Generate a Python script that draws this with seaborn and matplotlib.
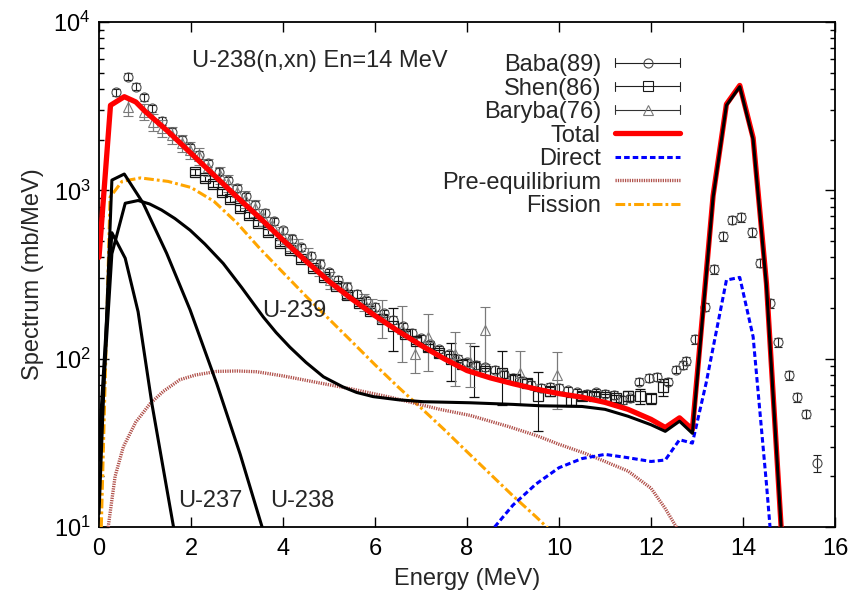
import numpy as np
import pandas as pd
import seaborn as sns
import matplotlib
matplotlib.use("Agg")
import matplotlib.pyplot as plt
from matplotlib.lines import Line2D
from matplotlib.legend_handler import HandlerBase
from matplotlib.ticker import FuncFormatter, NullLocator, LogLocator

# ---------------- data ----------------
baba_x = [0.38, 0.62, 0.80, 0.98, 1.16, 1.36, 1.58, 1.80, 1.98, 2.17, 2.38, 2.60, 2.80, 3.00,
          3.20, 3.40, 3.60, 3.80, 4.00, 4.20, 4.40, 4.60, 4.80, 5.00, 5.20, 5.40, 5.60, 5.80,
          6.00, 6.20, 6.40, 6.60, 6.80, 7.00, 7.20, 7.40, 7.60, 7.80, 8.00, 8.20, 8.40, 8.60,
          8.80, 9.00, 9.20, 9.40, 9.60, 9.80, 10.00, 10.20, 10.40, 10.60, 10.80, 11.00, 11.20,
          11.40, 11.55, 11.73, 11.95, 12.14, 12.36, 12.54, 12.69, 12.76, 12.96, 13.17, 13.37,
          13.57, 13.77, 13.96, 14.19, 14.38, 14.58, 14.77, 14.99, 15.18, 15.38, 15.60]
baba_y = [3820, 4730, 4130, 3570, 3070, 2590, 2230, 1990, 1800, 1620, 1450, 1290, 1150, 1030,
          920, 820, 735, 655, 580, 515, 460, 410, 365, 325, 295, 268, 243, 222,
          203, 186, 170, 156, 143, 132, 122, 114, 106, 100, 95, 92, 89, 86,
          81, 77, 74, 70, 67, 68, 67, 65, 63, 62, 63, 62, 61,
          57, 58, 73, 77, 78, 73, 86, 92, 97, 130, 203, 340,
          532, 668, 693, 562, 371, 214, 125, 80, 59, 47, 24]
baba_rel = [0.05] * 64 + [0.06] * 13 + [0.12]

shen_x = [2.09, 2.30, 2.47, 2.67, 2.85, 3.07, 3.25, 3.46, 3.68, 3.93, 4.15, 4.40, 4.65, 4.90,
          5.15, 5.40, 5.65, 5.90, 6.15, 6.40, 6.65, 6.90, 7.15, 7.40, 7.65, 7.90, 8.15, 8.40,
          8.75, 9.05, 9.30, 9.55, 9.80, 10.25, 10.50, 10.76, 11.00, 11.24, 11.50, 11.76, 12.00, 12.27]
shen_y = [1290, 1180, 1090, 980, 885, 790, 710, 640, 567, 484, 440, 390, 345, 305,
          270, 240, 215, 193, 173, 156, 141, 128, 117, 108, 99, 93, 89, 84,
          82, 76, 72, 60, 64, 56, 60, 60, 59, 58, 60, 60, 58, 68]
shen_err = [55, 50, 45, 40, 36, 32, 29, 26, 23, 20, 18, 16, 14, 13,
            11, 10, 9, 8, 8, 45, 6, 6, 6, 5, 25, 5, 30, 4,
            29, 4, 4, 23, 4, 3, 3, 3, 3, 3, 4, 6, 4, 8]

bar_x = [0.62, 0.98, 1.18, 1.38, 1.58, 1.80, 1.98, 2.18, 2.38, 2.63, 2.81, 2.99, 3.17, 3.39,
         3.57, 3.75, 3.97, 4.15, 4.33, 4.55, 4.78, 5.02, 5.38, 5.75, 5.93, 6.15, 6.58, 6.87,
         7.16, 7.74, 8.07, 8.39, 9.15, 9.95]
bar_y = [3140, 2930, 2560, 2340, 2130, 1900, 1740, 1590, 1380, 1230, 1100, 975, 885, 782,
         697, 622, 542, 495, 462, 410, 350, 293, 256, 218, 203, 177, 151, 107,
         135, 107, 96, 148, 82, 80]
bar_err = [380, 330, 300, 270, 250, 220, 200, 185, 160, 140, 125, 110, 100, 90,
           80, 72, 62, 56, 52, 47, 40, 33, 30, 25, 23, 45, 55, 25,
           50, 38, 28, 55, 29, 30]

total_x = [0, 0.25, 0.55, 0.8, 1.0, 1.5, 2.0, 2.5, 3.0, 3.5, 4.0, 4.5, 5.0, 5.5, 6.0, 6.5,
           7.0, 7.5, 8.0, 8.5, 9.0, 9.5, 10.0, 10.5, 11.0, 11.5, 12.0, 12.31, 12.62, 12.9,
           13.35, 13.64, 13.93, 14.22, 14.51, 14.85]
total_y = [400, 3200, 3600, 3350, 2950, 2240, 1660, 1230, 912, 684, 507, 380, 288, 226, 180,
           146, 120, 100, 85, 77, 71, 66, 62, 59, 55, 50, 43.6, 39, 44.5, 38,
           930, 3250, 4200, 2050, 280, 8]

u239_x = [0, 0.28, 0.57, 0.85, 1.1, 1.36, 1.65, 1.98, 2.3, 2.7, 3.1, 3.57, 3.85, 4.15, 4.5,
          4.88, 5.3, 5.6, 5.96, 6.5, 7.05, 8.07, 9.0, 9.6, 10.5, 11.0, 11.5, 12.0, 12.31,
          12.62, 12.9, 13.35, 13.64, 13.93, 14.22, 14.51, 14.85]
u239_y = [25, 420, 838, 870, 830, 764, 680, 580, 480, 368, 265, 177, 143, 117, 95,
          78, 68, 63, 59.5, 57, 55.5, 54.7, 53.5, 52.5, 52, 50, 45.5, 40.5, 37,
          42.5, 36, 910, 3200, 4130, 2000, 270, 8]

u238_x = [0, 0.28, 0.55, 0.96, 1.47, 1.98, 2.56, 3.07, 3.57, 3.7]
u238_y = [12, 1150, 1250, 838, 423, 195, 71, 27, 9.5, 7]

u237_x = [0, 0.28, 0.57, 0.85, 1.15, 1.4, 1.62, 1.75]
u237_y = [30, 560, 395, 190, 54, 22, 10, 6]

direct_x = [8.6, 9.0, 9.5, 10.0, 10.5, 11.0, 11.5, 12.0, 12.31, 12.62, 12.9, 13.2, 13.64,
            13.93, 14.22, 14.51, 14.8]
direct_y = [10, 13.5, 18, 22.5, 25.5, 27, 25.8, 24.5, 25, 33, 31.5, 72, 293,
            304, 135, 18, 2]

preeq_x = [0.2, 0.35, 0.53, 0.8, 1.11, 1.4, 1.76, 2.1, 2.56, 3.0, 3.43, 4.0, 4.88, 5.5,
           6.33, 7.41, 8.07, 8.89, 9.5, 10.0, 10.58, 11.0, 11.5, 12.0, 12.3, 12.55, 12.7]
preeq_y = [10, 20, 30, 42, 54, 64, 75, 80, 84, 84.5, 83.6, 79, 71, 66,
           59, 50, 46, 39.6, 35, 31, 27.3, 24.5, 21.5, 17, 13, 10, 8]

fis_x = [0.05, 0.24, 0.5, 0.9, 1.5, 2.0, 2.5, 3.0, 3.5, 4.0, 4.5, 5.0, 5.5, 6.0, 6.5,
         7.0, 7.5, 8.0, 8.5, 9.0, 9.5, 10.0]
fis_y = [10, 910, 1130, 1185, 1130, 1040, 860, 640, 450, 325, 235, 172, 126, 92, 68,
         51, 38, 28, 20.7, 15.3, 11.5, 8.5]

legend_labels = ["Baba(89)", "Shen(86)", "Baryba(76)", "Total", "Direct",
                 "Pre-equilibrium", "Fission"]

# ---------------- style ----------------
sns.set_theme(style="ticks")
plt.rcParams["font.family"] = ["Liberation Sans", "DejaVu Sans"]
plt.rcParams["mathtext.fontset"] = "custom"
plt.rcParams["mathtext.rm"] = "Liberation Sans"
plt.rcParams["mathtext.it"] = "Liberation Sans:italic"
plt.rcParams["lines.scale_dashes"] = False
FS = 17

fig = plt.figure(figsize=(8.64, 6.02), dpi=100)
ax = fig.add_axes([99 / 864, 1 - 527 / 602, 736 / 864, 505 / 602])
ax.set_yscale("log")
ax.set_xlim(0, 16)
ax.set_ylim(10, 1e4)

# experimental data
c_baba, c_shen, c_bar = "#4a4a4a", "#1a1a1a", "#7a7a7a"
baba_err = [r * v for r, v in zip(baba_rel, baba_y)]
ax.errorbar(baba_x, baba_y, yerr=baba_err, fmt="o", ms=6.5, mfc="none", mec=c_baba,
            mew=0.8, ecolor="#222222", elinewidth=0.8, capsize=3.0, capthick=0.8, zorder=2)
ax.errorbar(shen_x, shen_y, yerr=shen_err, fmt="s", ms=7, mfc="none", mec=c_shen,
            mew=0.9, ecolor="#111111", elinewidth=0.8, capsize=3.5, capthick=0.8, zorder=2)
ax.errorbar(bar_x, bar_y, yerr=bar_err, fmt="^", ms=7.5, mfc="none", mec=c_bar,
            mew=0.8, ecolor=c_bar, elinewidth=0.9, capsize=3.8, capthick=0.9, zorder=2)

# model curves
def curve(x, y, **kw):
    sns.lineplot(x=x, y=y, ax=ax, estimator=None, sort=False, **kw)
    return ax.lines[-1]

l_fis = curve(fis_x, fis_y, color="#ffa500", lw=2.2,
              linestyle=(0, (7, 2.2, 2, 2.2)), zorder=3)
l_pre = curve(preeq_x, preeq_y, color="#b0504a", lw=2.4,
              linestyle=(0, (0.9, 0.8)), zorder=3)
l_dir = curve(direct_x, direct_y, color="#0000ff", lw=2.2,
              linestyle=(0, (4, 2.2)), zorder=3)
l_tot = curve(total_x, total_y, color="#ff0000", lw=3.8, zorder=4)
for xs, ys in [(u237_x, u237_y), (u238_x, u238_y), (u239_x, u239_y)]:
    curve(xs, ys, color="black", lw=2.2, zorder=5)

# annotations
ax.text(2.02, 10 ** 3.735, "U-238(n,xn) En=14 MeV", fontsize=FS, va="baseline", ha="left")
ax.text(3.54, 178, "U-239", fontsize=FS, va="baseline", ha="left")
ax.text(1.72, 13.2, "U-237", fontsize=FS, va="baseline", ha="left")
ax.text(3.72, 13.2, "U-238", fontsize=FS, va="baseline", ha="left")

# axes / ticks
ax.set_xticks(range(0, 17, 2))
ax.xaxis.set_minor_locator(NullLocator())
ax.yaxis.set_major_locator(LogLocator(base=10, numticks=10))
ax.yaxis.set_minor_locator(LogLocator(base=10, subs=np.arange(2, 10), numticks=20))
ax.yaxis.set_major_formatter(FuncFormatter(lambda v, _: r"$\mathregular{10^{%d}}$" % round(np.log10(v))))
ax.tick_params(which="both", direction="in", top=True, right=True, width=1.0, colors="black",
               labelsize=FS)
ax.tick_params(which="major", length=7)
ax.tick_params(which="minor", length=3.5)
ax.tick_params(axis="x", pad=8)
ax.tick_params(axis="y", pad=6)
for s in ax.spines.values():
    s.set_linewidth(1.3)
    s.set_color("black")
ax.set_xlabel("Energy (MeV)", fontsize=FS)
ax.set_ylabel("Spectrum (mb/MeV)", fontsize=FS)
ax.xaxis.set_label_coords(0.5, -(568 - 527) / 505)
ax.yaxis.set_label_coords(-(99 - 44) / 736, 0.5)
ax.grid(False)

# legend (gnuplot style: right-aligned labels, samples on the right)
class GnuErrHandler(HandlerBase):
    def __init__(self, marker, ms, mec, lc):
        super().__init__()
        self.marker, self.ms, self.mec, self.lc = marker, ms, mec, lc

    def create_artists(self, legend, orig_handle, xdescent, ydescent, width, height,
                       fontsize, trans):
        x0, x1 = -xdescent, width - xdescent
        y = (height - ydescent) / 2
        c = 0.28 * height
        arts = [Line2D([x0, x1], [y, y], color=self.lc, lw=0.8),
                Line2D([x0, x0], [y - c, y + c], color=self.lc, lw=0.8),
                Line2D([x1, x1], [y - c, y + c], color=self.lc, lw=0.8),
                Line2D([(x0 + x1) / 2], [y], marker=self.marker, ms=self.ms, mfc="none",
                       mec=self.mec, mew=0.8, lw=0)]
        for a in arts:
            a.set_transform(trans)
        return arts

p_baba = Line2D([], [], marker="o")
p_shen = Line2D([], [], marker="s")
p_bar = Line2D([], [], marker="^")
handler_map = {p_baba: GnuErrHandler("o", 6.5, c_baba, "#222222"),
               p_shen: GnuErrHandler("s", 7, c_shen, "#222222"),
               p_bar: GnuErrHandler("^", 7.5, c_bar, "#333333")}
ax.legend([p_baba, p_shen, p_bar, l_tot, l_dir, l_pre, l_fis], legend_labels,
          handler_map=handler_map, loc="upper right",
          bbox_to_anchor=((680 - 99) / 736, 1 - (54 - 22) / 505),
          frameon=False, markerfirst=False, fontsize=FS, handlelength=2.75,
          handletextpad=0.6, labelspacing=0.065, borderpad=0, borderaxespad=0)

fig.savefig("out.png", dpi=100)
